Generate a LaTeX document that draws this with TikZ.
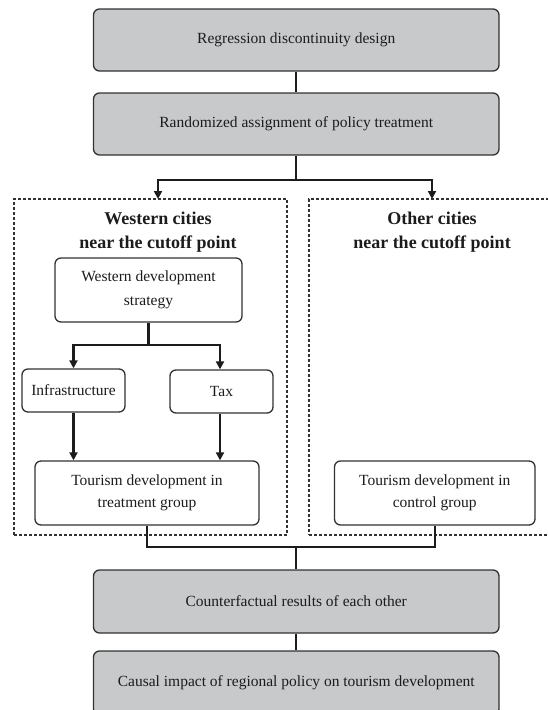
\documentclass[tikz,border=0pt]{standalone}
\usepackage{fontspec}
\setmainfont{Liberation Serif}
\usetikzlibrary{arrows.meta}
\definecolor{boxgray}{RGB}{200,201,203}
\definecolor{edgecol}{RGB}{50,50,50}
\definecolor{txt}{RGB}{28,28,28}
\begin{document}
\begin{tikzpicture}[x=1pt,y=-1pt,
  base/.style={draw=edgecol, line width=1.3pt, rounded corners=6pt, inner sep=0pt, align=center, text=txt, font=\fontsize{15.5}{24}\selectfont},
  graybox/.style={base, fill=boxgray, minimum width=405.5pt, minimum height=62pt},
  whitebox/.style={base, fill=white},
  group/.style={draw=edgecol, line width=1.2pt, dash pattern=on 3pt off 2pt, inner sep=0pt},
  conn/.style={draw=txt, line width=2.1pt},
  arr/.style={conn, -{Triangle[length=8pt,width=8pt]}},
  title/.style={font=\fontsize{18}{24}\selectfont\bfseries, text=txt, align=center, inner sep=0pt}
]
\useasboundingbox (0,0) rectangle (548,710);
\clip (0,0) rectangle (548,710);

% group frames
\node[group, minimum width=273pt, minimum height=336pt] (L) at (150.5,367) {};
\node[group, minimum width=247pt, minimum height=336pt] (R) at (432.5,367) {};

% titles
\node[title] (Lt) at (158,232) {Western cities\\near the cutoff point};
\node[title] (Rt) at (432,232) {Other cities\\near the cutoff point};

% gray boxes
\node[graybox] (b1) at (296.25,40) {Regression discontinuity design};
\node[graybox] (b2) at (296.25,124) {Randomized assignment of policy treatment};
\node[graybox, minimum height=63pt] (cf) at (296.25,601.5) {Counterfactual results of each other};
\node[graybox, minimum height=64pt] (ci) at (296.25,683) {Causal impact of regional policy on tourism development};

% white boxes
\node[whitebox, minimum width=187pt, minimum height=64pt] (wd) at (148.5,290) {Western development\\strategy};
\node[whitebox, minimum width=103pt, minimum height=43pt] (inf) at (73.5,390.5) {Infrastructure};
\node[whitebox, minimum width=103pt, minimum height=43pt] (tax) at (221.5,391.5) {Tax};
\node[whitebox, minimum width=224pt, minimum height=64pt, font=\fontsize{15.5}{22}\selectfont] (tt) at (147,493) {Tourism development in\\treatment group};
\node[whitebox, minimum width=200.5pt, minimum height=64pt, font=\fontsize{15.5}{22}\selectfont] (tc) at (434.75,493) {Tourism development in\\control group};

% connector junctions
\coordinate (j1) at (296.25,180);
\coordinate (Ltop) at (158,199);
\coordinate (Rtop) at (432,199);
\coordinate (j2) at (148.5,345);
\coordinate (j3) at (296.25,547);

\draw[conn] (b1.south) -- (b2.north);
\draw[conn] (b2.south) -- (j1);
\draw[arr] (j1) -| (Ltop);
\draw[arr] (j1) -| (Rtop);

\draw[conn] (wd.south) -- (j2);
\draw[arr] (j2) -| (inf.north);
\draw[arr] (j2) -| ([xshift=-1.5pt]tax.north);

\draw[arr] (inf.south) -- (inf.south |- tt.north);
\draw[arr] ([xshift=-1.5pt]tax.south) -- ([xshift=-1.5pt]tax.south |- tt.north);

\draw[conn] (tt.south) |- (j3);
\draw[conn] (tc.south) |- (j3);
\draw[conn] (j3) -- (cf.north);
\draw[conn] (cf.south) -- (ci.north);
\end{tikzpicture}
\end{document}
